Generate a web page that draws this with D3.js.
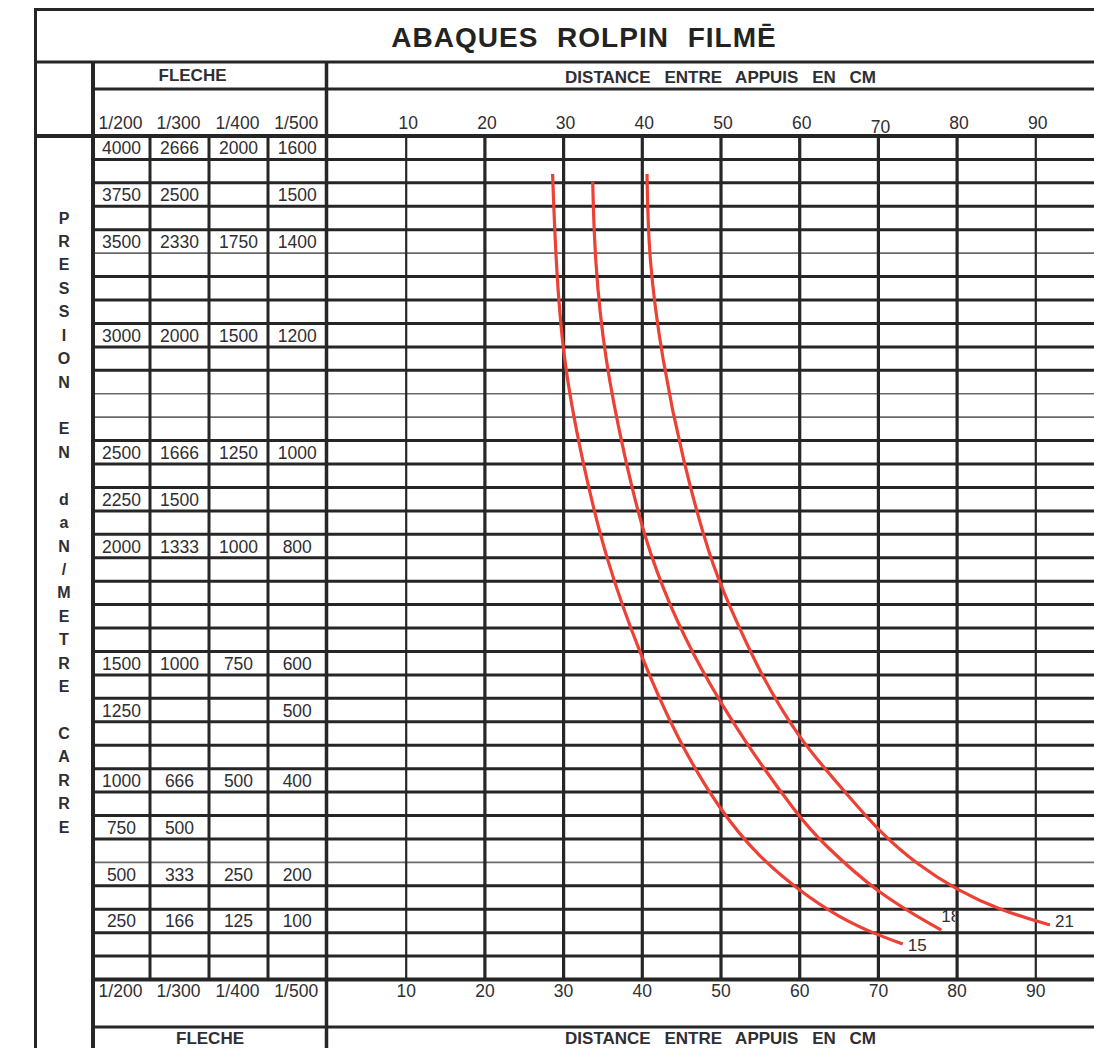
<!DOCTYPE html>
<html>
<head>
<meta charset="utf-8">
<script src="https://cdn.jsdelivr.net/npm/d3@7"></script>
<style>
  html, body { margin: 0; padding: 0; background: #fff; overflow: hidden; }
  svg { display: block; }
  text { font-family: "Liberation Sans", Arial, Helvetica, sans-serif; }
</style>
</head>
<body>
<svg id="chart" width="1094" height="1048"></svg>
<script>
// ---- Data -------------------------------------------------------------
// Span between supports (cm) against load (daN/m², 1/200 deflection column)
// for each Rolpin thickness.
const curveNames = ["15", "18", "21"];
const span15 = [28.6, 29.0, 29.9, 32.3, 35.35, 39.8, 44.5, 49.8, 54.9, 60.0, 65.1, 69.9, 73.1];
const load15 = [3860, 3405, 2897, 2462, 1942, 1528, 1144, 842, 586, 410, 266, 175, 127];
const span18 = [33.7, 33.95, 35.2, 37.8, 40.3, 43.5, 47.3, 52.8, 60.0, 62.5, 69.9, 78.0];
const load18 = [3817, 3405, 2897, 2462, 2035, 1742, 1476, 1144, 800, 682, 394, 201];
const span21 = [40.6, 40.8, 42.5, 45.1, 48.6, 51.1, 54.9, 60.0, 65.1, 70.2, 75.2, 80.0, 85.4, 91.8];
const load21 = [3860, 3405, 2897, 2462, 1942, 1742, 1449, 1144, 971, 720, 543, 415, 308, 228];

// Distance axis ticks (cm)
const distanceTicks = [10, 20, 30, 40, 50, 60, 70, 80, 90];

// Deflection columns and their load values, by table row
const flecheLabels = ["1/200", "1/300", "1/400", "1/500"];
const tableRowIndex = [0, 2, 4, 8, 13, 15, 17, 22, 24, 27, 29, 31, 33];
const load200 = [4000, 3750, 3500, 3000, 2500, 2250, 2000, 1500, 1250, 1000, 750, 500, 250];
const load300 = ["2666", "2500", "2330", "2000", "1666", "1500", "1333", "1000", "", "666", "500", "333", "166"];
const load400 = ["2000", "", "1750", "1500", "1250", "", "1000", "750", "", "500", "", "250", "125"];
const load500 = ["1600", "1500", "1400", "1200", "1000", "", "800", "600", "500", "400", "", "200", "100"];

const titleText = "ABAQUES ROLPIN FILMĒ";
const flecheTitle = "FLECHE";
const distanceTitle = "DISTANCE ENTRE APPUIS EN CM";
const pressureTitle = "PRESSION EN daN/METRE CARRE";

// ---- Layout -----------------------------------------------------------
const W = 1094, H = 1048;
const ink = "#262626", textInk = "#2e2e33";
const frameL = 35.5, frameT = 9.5, frameR = 1110;
const titleBottom = 62, subTop = 89, bodyTop = 136, bodyBottom = 979.5, footLine = 1027;
const sideCol = 93;                      // right edge of the vertical label column
const colEdges = [93, 150, 209, 268, 326.5];
const nRows = 36;
const thinRows = new Set([5, 11, 12, 31]);

const svg = d3.select("#chart");
svg.append("rect").attr("width", W).attr("height", H).attr("fill", "#fff");

const x = d3.scaleLinear().domain([0, 100]).range([327.5, 1114.5]);
const yRow = d3.scaleLinear().domain([0, nRows]).range([bodyTop, bodyBottom]);
// Load scale follows the row layout of the 1/200 column
const yLoad = d3.scaleLinear()
  .domain(load200)
  .range(tableRowIndex.map(i => yRow(i + 0.5)));

const colCenter = d3.range(4).map(i => (colEdges[i] + colEdges[i + 1]) / 2);

// ---- Curve labels (drawn first so grid lines sit over them) -------------
const series = [
  { name: curveNames[0], span: span15, load: load15, dx: 5, dy: 7 },
  { name: curveNames[1], span: span18, load: load18, dx: 0, dy: -8 },
  { name: curveNames[2], span: span21, load: load21, dx: 5, dy: 2 }
];

svg.append("clipPath").attr("id", "clip18")
  .append("rect").attr("x", 0).attr("y", 0).attr("width", 955).attr("height", H);

const labG = svg.append("g");
series.forEach((s, k) => {
  const n = s.span.length - 1;
  labG.append("text")
    .attr("x", x(s.span[n]) + s.dx)
    .attr("y", yLoad(s.load[n]) + s.dy)
    .attr("font-size", 17)
    .attr("fill", textInk)
    .attr("clip-path", k === 1 ? "url(#clip18)" : null)
    .text(s.name);
});

// ---- Grid ---------------------------------------------------------------
const grid = svg.append("g").attr("fill", "none");
function hline(y, x1, x2, w, c) {
  grid.append("line").attr("x1", x1).attr("x2", x2).attr("y1", y).attr("y2", y)
    .attr("stroke", c || ink).attr("stroke-width", w);
}
function vline(xp, y1, y2, w, c) {
  grid.append("line").attr("x1", xp).attr("x2", xp).attr("y1", y1).attr("y2", y2)
    .attr("stroke", c || ink).attr("stroke-width", w);
}

// row separators
d3.range(1, nRows).forEach(i => {
  if (thinRows.has(i)) hline(yRow(i), sideCol, frameR, 1.6, "#6a6a6a");
  else hline(yRow(i), sideCol, frameR, 3);
});

// distance grid
distanceTicks.forEach(d => {
  const thin = d === 10 || d === 90;
  vline(x(d), bodyTop, bodyBottom, thin ? 2.2 : 3.2);
});

// deflection column separators
colEdges.slice(1, 4).forEach(c => vline(c, bodyTop, bodyBottom, 3));

// frame and header rules
hline(frameT, frameL - 1.5, frameR, 3);
hline(titleBottom, frameL, frameR, 3);
hline(subTop, sideCol, frameR, 3);
hline(bodyTop, frameL, frameR, 4);
hline(bodyBottom, sideCol, frameR, 4);
hline(footLine, sideCol, frameR, 3);
vline(frameL, frameT - 1.5, H, 3);
vline(sideCol, titleBottom, H, 4);
vline(colEdges[4], titleBottom, H, 3.5);

// ---- Curves -------------------------------------------------------------
const line = d3.line()
  .x(d => x(d[0]))
  .y(d => yLoad(d[1]))
  .curve(d3.curveBasis);

svg.append("g").selectAll("path").data(series).join("path")
  .attr("d", s => line(s.span.map((v, i) => [v, s.load[i]])))
  .attr("fill", "none")
  .attr("stroke", "#ee4136")
  .attr("stroke-width", 3.2)
  .attr("stroke-linecap", "butt");

// ---- Text ---------------------------------------------------------------
const txt = svg.append("g").attr("fill", textInk);

txt.append("text")
  .attr("x", 584).attr("y", 46.5)
  .attr("text-anchor", "middle")
  .attr("font-size", 28).attr("font-weight", "bold")
  .attr("letter-spacing", 1).attr("word-spacing", 10)
  .attr("fill", "#232323")
  .text(titleText);

// header / footer titles
[[192.5, 81], [210, 1044]].forEach(([cx, by]) => {
  txt.append("text").attr("x", cx).attr("y", by)
    .attr("text-anchor", "middle").attr("font-size", 17).attr("font-weight", "bold")
    .text(flecheTitle);
});
[83, 1044].forEach(by => {
  txt.append("text").attr("x", 720.5).attr("y", by)
    .attr("text-anchor", "middle").attr("font-size", 17).attr("font-weight", "bold")
    .attr("word-spacing", 9)
    .text(distanceTitle);
});

// deflection column headings (top and bottom)
[129, 997].forEach(by => {
  flecheLabels.forEach((l, i) => {
    txt.append("text").attr("x", colCenter[i] - 1).attr("y", by)
      .attr("text-anchor", "middle").attr("font-size", 17.5)
      .text(l);
  });
});

// distance tick labels (top and bottom)
distanceTicks.forEach(d => {
  txt.append("text").attr("x", x(d) + 2).attr("y", d === 70 ? 133 : 129)
    .attr("text-anchor", "middle").attr("font-size", 17.5).text(d);
  txt.append("text").attr("x", x(d)).attr("y", 997)
    .attr("text-anchor", "middle").attr("font-size", 17.5).text(d);
});

// table values
const columns = [load200.map(String), load300, load400, load500];
columns.forEach((col, ci) => {
  col.forEach((v, ri) => {
    if (!v) return;
    txt.append("text")
      .attr("x", colCenter[ci])
      .attr("y", yRow(tableRowIndex[ri] + 0.5) + 6.5)
      .attr("text-anchor", "middle").attr("font-size", 17.5)
      .text(v);
  });
});

// vertical axis title, one character per row starting at row 3
pressureTitle.split("").forEach((ch, i) => {
  if (ch === " ") return;
  txt.append("text")
    .attr("x", 64).attr("y", yRow(3 + i + 0.5) + 5.5)
    .attr("text-anchor", "middle").attr("font-size", 16).attr("font-weight", "bold")
    .text(ch);
});
</script>
</body>
</html>
